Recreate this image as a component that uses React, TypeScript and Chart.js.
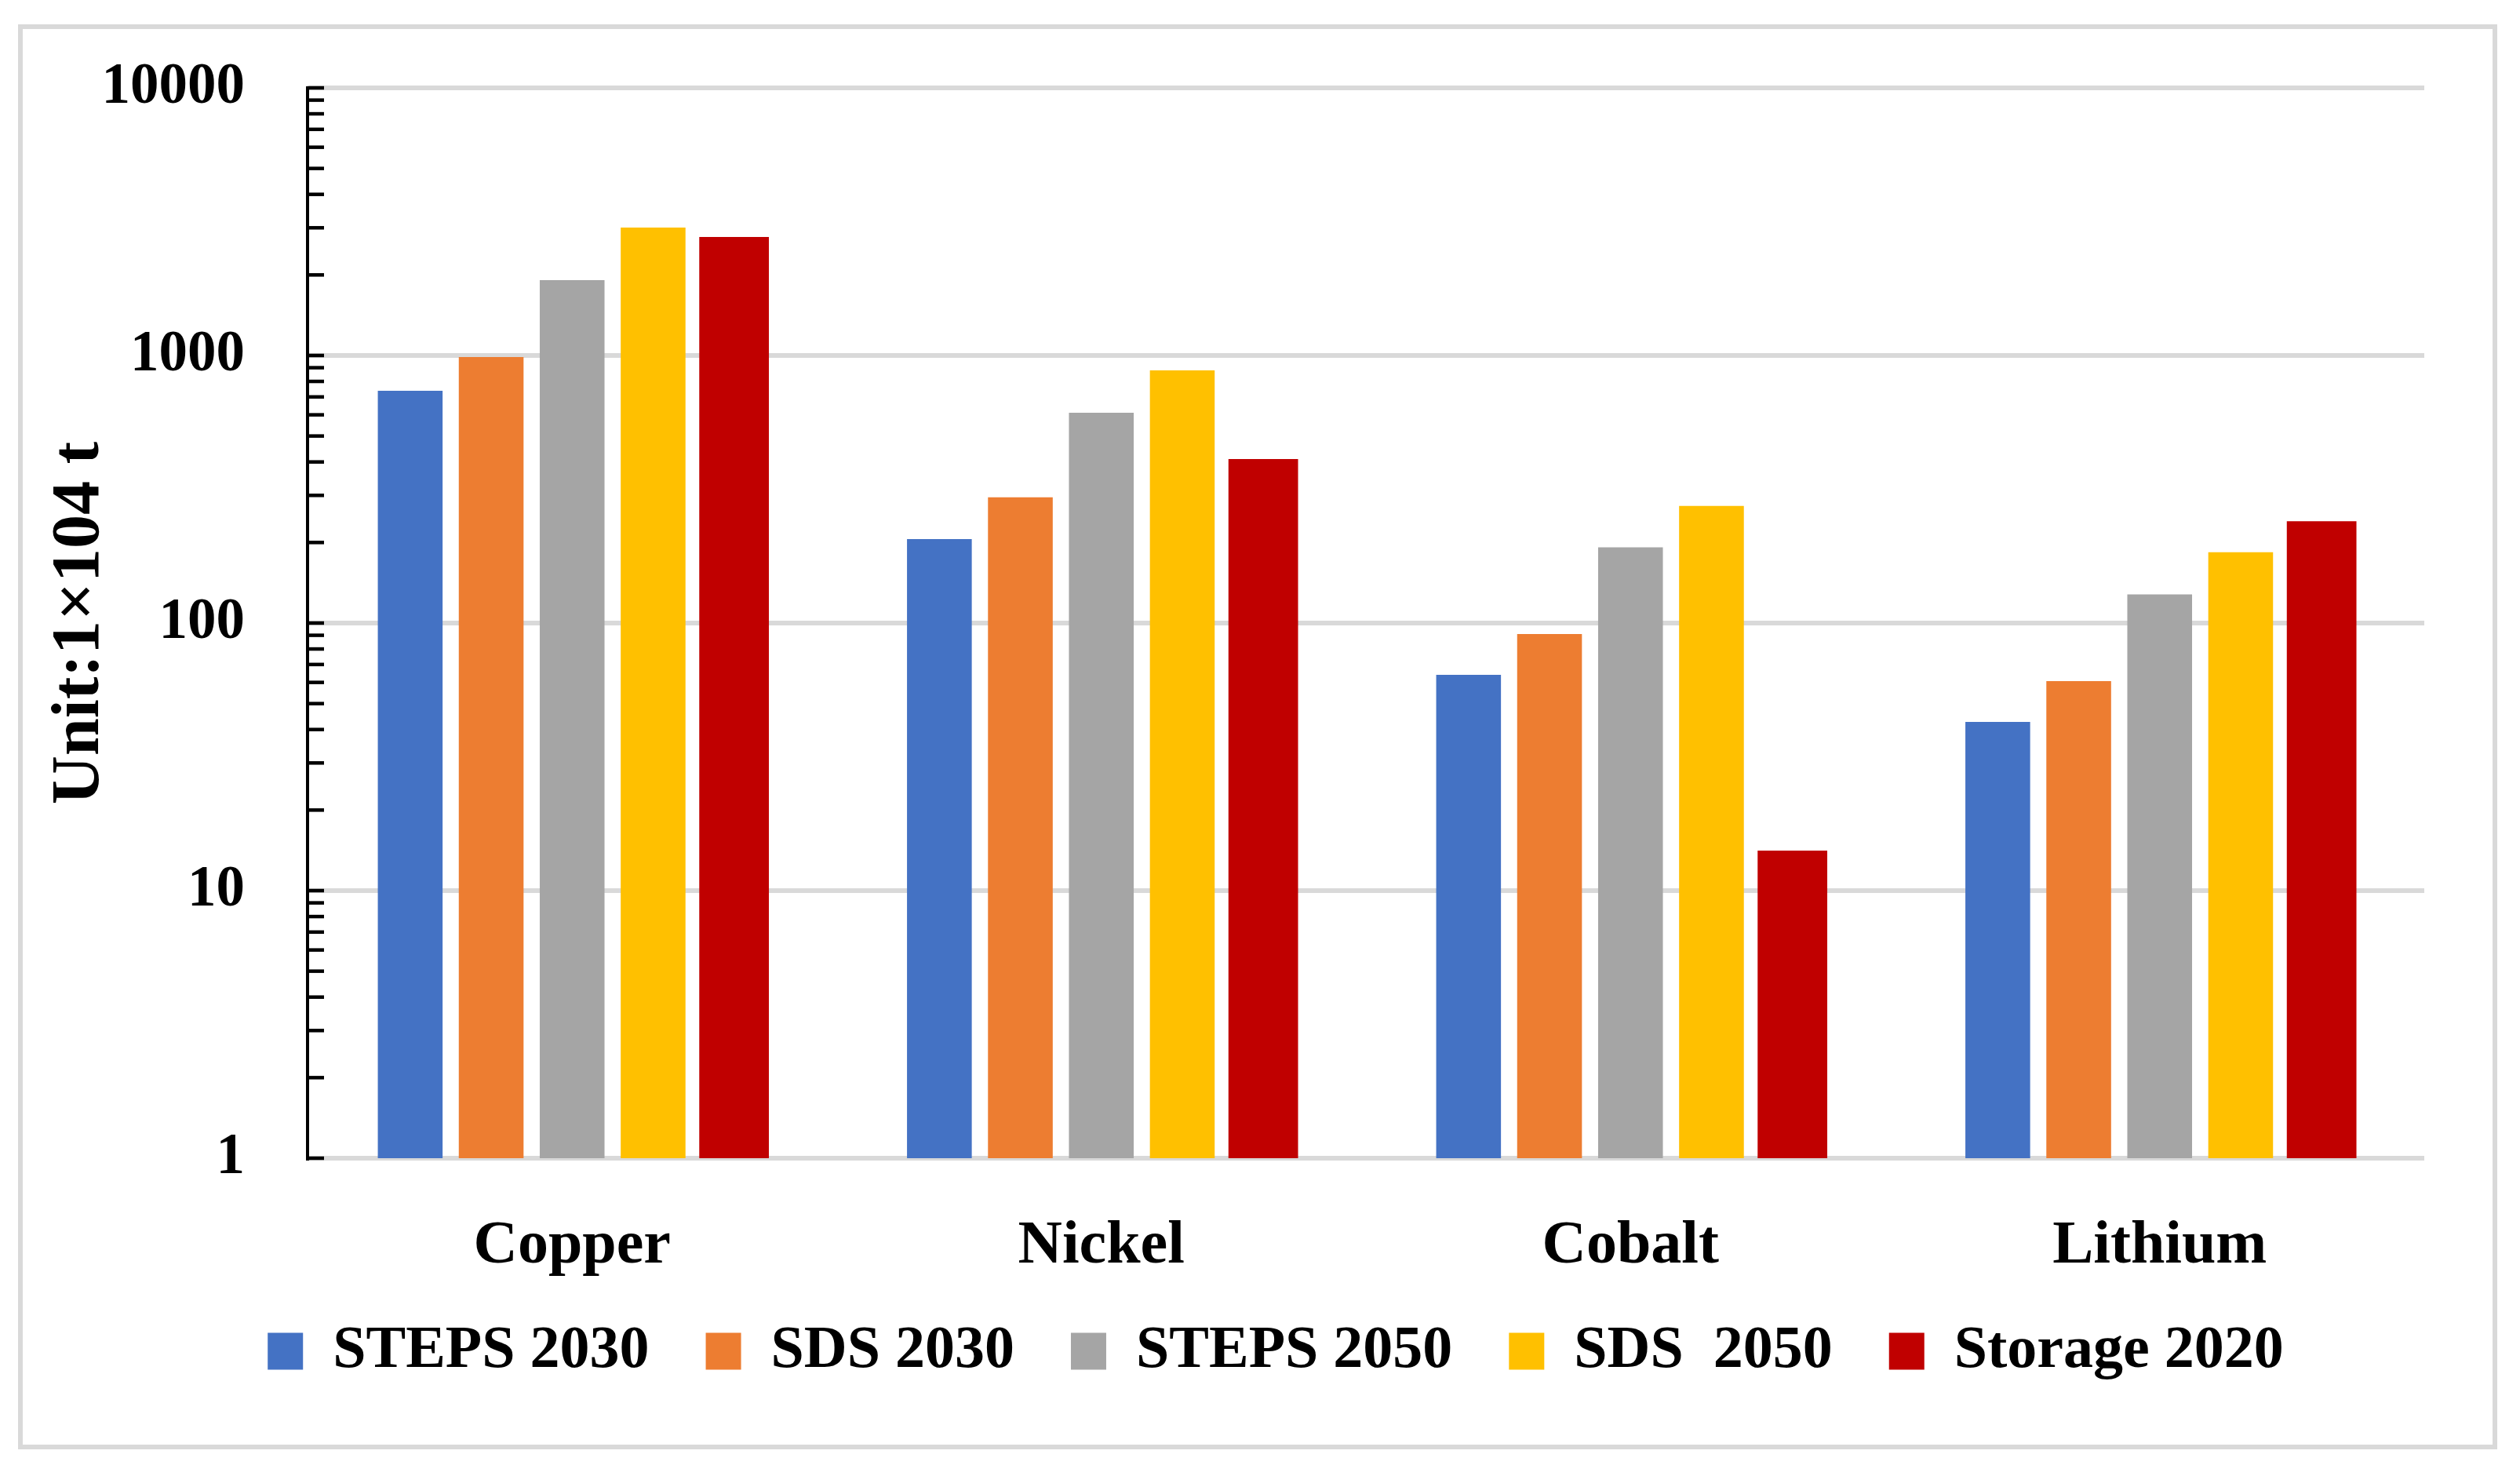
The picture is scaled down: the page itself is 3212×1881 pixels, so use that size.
import React, { useEffect, useRef } from "react";
import { Chart, registerables } from "chart.js";

Chart.register(...registerables);

// ---- Data ----
const categories = ["Copper", "Nickel", "Cobalt", "Lithium"];
const seriesNames = ["STEPS 2030", "SDS 2030", "STEPS 2050", "SDS  2050", "Storage 2020"];
const steps2030 = [738, 206, 64, 42.7];
const sds2030 = [986, 295, 91, 60.7];
const steps2050 = [1913, 611, 192, 128];
const sds2050 = [3006, 880, 274, 184];
const storage2020 = [2772, 410, 14.1, 240];
const yMajorTicks = [1, 10, 100, 1000, 10000];
const yMinorSteps = [2, 3, 4, 5, 6, 7, 8, 9];
const yAxisTitle = "Unit:1×104 t";

const seriesValues = [steps2030, sds2030, steps2050, sds2050, storage2020];
const seriesColors = ["#4472C4", "#ED7D31", "#A5A5A5", "#FFC000", "#C00000"];

const FONT = "'Liberation Serif', 'Times New Roman', serif";

const allTickValues: number[] = [];
yMajorTicks.forEach((m, i) => {
  allTickValues.push(m);
  if (i < yMajorTicks.length - 1) yMinorSteps.forEach((s) => allTickValues.push(m * s));
});
allTickValues.sort((a, b) => a - b);

const isMajor = (v: number) => yMajorTicks.includes(v);

const innerTicksPlugin = {
  id: "innerTicks",
  afterDraw(chart: any) {
    const y = chart.scales.y;
    const { ctx, chartArea } = chart;
    ctx.save();
    ctx.strokeStyle = "#000";
    ctx.lineWidth = 4.5;
    y.ticks.forEach((t: any) => {
      const py = y.getPixelForValue(t.value);
      ctx.beginPath();
      ctx.moveTo(chartArea.left, py);
      ctx.lineTo(chartArea.left + 21, py);
      ctx.stroke();
    });
    ctx.restore();
  },
};

export default function App() {
  const ref = useRef<HTMLCanvasElement>(null);

  useEffect(() => {
    if (!ref.current) return;
    const chart = new Chart(ref.current, {
      type: "bar",
      data: {
        labels: categories,
        datasets: seriesNames.map((name, i) => ({
          label: name,
          data: seriesValues[i],
          backgroundColor: seriesColors[i],
          borderWidth: 0,
          barPercentage: i === 4 ? 0.86 : 0.8,
          categoryPercentage: 0.765,
        })),
      },
      options: {
        responsive: false,
        animation: false,
        devicePixelRatio: 1,
        layout: { padding: { left: 40, right: 0, top: 112, bottom: 111 } },
        plugins: {
          legend: {
            position: "bottom",
            labels: {
              font: { family: FONT, size: 76, weight: "bold" },
              color: "#000",
              boxWidth: 45,
              boxHeight: 47,
              padding: 72,
            },
          },
          tooltip: { enabled: false },
        },
        scales: {
          x: {
            grid: { display: false },
            border: { display: false },
            ticks: {
              font: { family: FONT, size: 78, weight: "bold" },
              color: "#000",
              padding: 58,
              maxRotation: 0,
            },
            afterFit: (s: any) => {
              s.height = 136;
              s._computeLabelArea = () => undefined;
            },
          },
          y: {
            type: "logarithmic",
            min: 1,
            max: 10000,
            afterBuildTicks: (s: any) => {
              s.ticks = allTickValues.map((v) => ({ value: v, major: isMajor(v) }));
            },
            afterFit: (s: any) => {
              s.width = 352;
            },
            ticks: {
              autoSkip: false,
              font: { family: FONT, size: 73, weight: "bold", lineHeight: 0.4 },
              color: "#000",
              padding: 80,
              callback: (v: any) => (isMajor(Number(v)) ? String(v) : ""),
            },
            grid: {
              drawTicks: false,
              color: (c: any) => (c.tick && isMajor(c.tick.value) ? "#D9D9D9" : "rgba(0,0,0,0)"),
              lineWidth: (c: any) => (c.tick && isMajor(c.tick.value) ? 6 : 0),
            },
            border: { display: true, color: "#000", width: 4 },
            title: {
              display: true,
              text: yAxisTitle,
              color: "#000",
              font: { family: FONT, size: 86, weight: "bold" },
              padding: { top: 11, bottom: 0 },
            },
          },
          y2: {
            type: "linear",
            position: "right",
            display: true,
            grid: { display: false },
            border: { display: false },
            ticks: { display: false },
            afterFit: (s: any) => {
              s.width = 122;
            },
          },
        },
      },
      plugins: [innerTicksPlugin],
    } as any);
    return () => chart.destroy();
  }, []);

  return (
    <div
      style={{
        position: "fixed",
        left: 0,
        top: 0,
        width: 3212,
        height: 1881,
        background: "#fff",
      }}
    >
      <div
        style={{
          position: "absolute",
          left: 23,
          top: 31,
          width: 3160,
          height: 1816,
          border: "6px solid #D9D9D9",
          boxSizing: "border-box",
        }}
      />
      <canvas
        ref={ref}
        width={3212}
        height={1881}
        style={{ position: "absolute", left: 0, top: 0, width: 3212, height: 1881 }}
      />
    </div>
  );
}
